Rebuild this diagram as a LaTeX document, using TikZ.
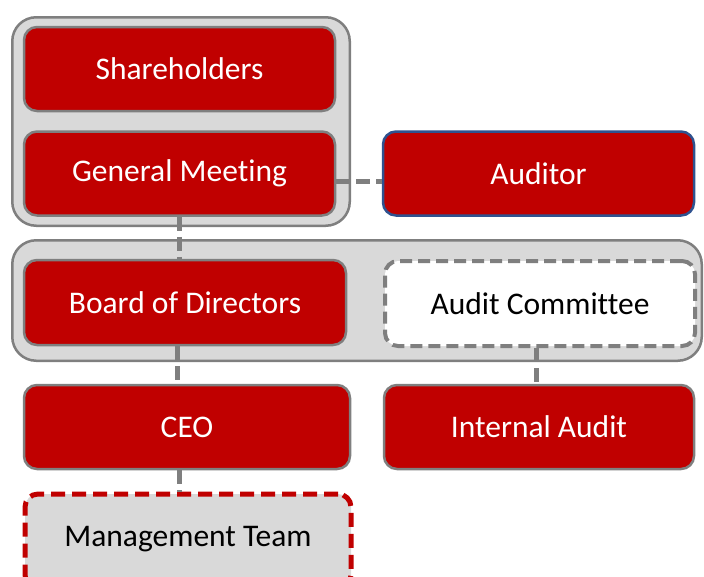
\documentclass[tikz,border=0pt]{standalone}
\usepackage{fontspec}
\setmainfont{Carlito}[Ligatures=NoCommon]
\usetikzlibrary{positioning,calc}
\definecolor{boxred}{HTML}{C00000}
\definecolor{linegray}{HTML}{7F7F7F}
\definecolor{panegray}{HTML}{D9D9D9}
\definecolor{audblue}{HTML}{2F528F}

\begin{document}
\begin{tikzpicture}[x=1pt,y=-1pt,
  every node/.style={inner sep=0pt,font=\fontsize{31.5}{36}\selectfont},
  group/.style={draw=linegray,fill=panegray,line width=2.5pt,rounded corners=24pt},
  redbox/.style={draw=linegray,fill=boxred,text=white,line width=2.5pt,rounded corners=13pt,minimum height=84pt},
  link/.style={draw=linegray,line width=5pt,dash pattern=on 14pt off 6pt}]
  \useasboundingbox (0,0) rectangle (704,576);
  % grey panes behind the boxes
  \node[group,minimum width=337.5pt,minimum height=208.5pt] (top) at (181,121.5) {};
  \node[group,minimum width=689.5pt,minimum height=120.5pt] (mid) at (357,300.5) {};
  \node[redbox,minimum width=311pt] at (179.5,69) (sh) {Shareholders};
  \node[redbox,minimum width=311pt,below=18pt of sh] (gm) {General Meeting};
  \node[redbox,minimum width=311pt,draw=audblue] at (538.5,173.5) (aud) {Auditor};
  \node[redbox,minimum width=322pt,minimum height=85pt] at (185,302.5) (bod) {Board of Directors};
  \node[redbox,minimum width=310pt,minimum height=85pt,fill=white,text=black,line width=4pt,dash pattern=on 12pt off 6pt] at (540,303.5) (ac) {Audit Committee};
  \node[redbox,minimum width=326pt] at (187,427) (ceo) {CEO};
  \node[redbox,minimum width=310pt] at (539,427) (ia) {Internal Audit};
  \node[redbox,minimum width=326pt,minimum height=94pt,fill=panegray,text=black,draw=boxred,line width=5pt,dash pattern=on 14pt off 7pt,text depth=10pt] at (188,541) (mgmt) {Management Team};
  % links
  \draw[link] ([yshift=-8pt]gm.east) -- ([yshift=-8pt]aud.west);
  \draw[link] (gm.south) -- (gm.south |- bod.north);
  \draw[link] ([xshift=-8pt]bod.south) -- ([xshift=-8pt]bod.south |- ceo.north);
  \draw[link] (gm.south |- ceo.south) -- (gm.south |- mgmt.north);
  \draw[link] ([xshift=-4pt]ac.south) -- ([xshift=-4pt]ac.south |- ia.north);
\end{tikzpicture}
\end{document}
